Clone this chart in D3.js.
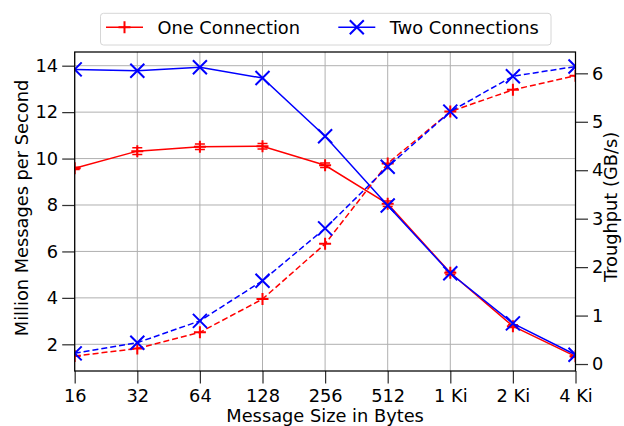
<!DOCTYPE html>
<html>
<head>
<meta charset="utf-8">
<script src="https://cdn.jsdelivr.net/npm/d3@7"></script>
<style>
  body { margin: 0; background: #fff; }
  svg { display: block; font-family: "DejaVu Sans", sans-serif; }
</style>
</head>
<body>
<svg id="chart"></svg>
<script>
// message sizes in bytes
var sizes = [16, 32, 64, 128, 256, 512, 1024, 2048, 4096];
var sizeLabels = ["16", "32", "64", "128", "256", "512", "1 Ki", "2 Ki", "4 Ki"];

// million messages per second (left axis)
var oneMsgs = [9.58, 10.32, 10.51, 10.53, 9.71, 8.05, 5.08, 2.78, 1.48];
var oneMsgsErr = [0.05, 0.15, 0.12, 0.12, 0.1, 0.12, 0.08, 0.06, 0.04];
var twoMsgs = [13.84, 13.78, 13.93, 13.47, 10.96, 7.98, 5.06, 2.90, 1.55];

// throughput in GB/s (right axis)
var oneTput = [0.165, 0.32, 0.654, 1.34, 2.48, 4.14, 5.21, 5.66, 5.95];
var twoTput = [0.22, 0.44, 0.89, 1.72, 2.80, 4.07, 5.21, 5.94, 6.14];

var leftTicks = [2, 4, 6, 8, 10, 12, 14];
var rightTicks = [0, 1, 2, 3, 4, 5, 6];

var width = 624, height = 426;
var plot = {left: 74.7, right: 575.5, top: 52, bottom: 371};
var fontSize = 17.8;
var tickLen = 12.5;

var svg = d3.select("#chart")
    .attr("width", width)
    .attr("height", height);

var x = d3.scaleLog().base(2)
    .domain([16, 4096])
    .range([plot.left, plot.right]);
var yLeft = d3.scaleLinear()
    .domain([0.85, 14.59])
    .range([plot.bottom, plot.top]);
var yRight = d3.scaleLinear()
    .domain([-0.144, 6.44])
    .range([plot.bottom, plot.top]);

svg.append("defs").append("clipPath")
    .attr("id", "plotClip")
    .append("rect")
    .attr("x", plot.left)
    .attr("y", plot.top)
    .attr("width", plot.right - plot.left)
    .attr("height", plot.bottom - plot.top);

// grid
var grid = svg.append("g").attr("stroke", "#b0b0b0").attr("stroke-width", 1);
grid.selectAll("line.gx")
    .data(sizes)
    .join("line")
    .attr("x1", d => x(d)).attr("x2", d => x(d))
    .attr("y1", plot.top).attr("y2", plot.bottom);
grid.selectAll("line.gy")
    .data(leftTicks)
    .join("line")
    .attr("x1", plot.left).attr("x2", plot.right)
    .attr("y1", d => yLeft(d)).attr("y2", d => yLeft(d));

// axes
var xAxis = d3.axisBottom(x)
    .tickValues(sizes)
    .tickFormat((d, i) => sizeLabels[i])
    .tickSize(tickLen)
    .tickPadding(6);
var leftAxis = d3.axisLeft(yLeft)
    .tickValues(leftTicks)
    .tickFormat(d3.format("d"))
    .tickSize(tickLen)
    .tickPadding(4);
var rightAxis = d3.axisRight(yRight)
    .tickValues(rightTicks)
    .tickFormat(d3.format("d"))
    .tickSize(tickLen)
    .tickPadding(4);

function styleAxis(g) {
    g.select(".domain").remove();
    g.attr("font-family", null).attr("font-size", null);
    g.selectAll(".tick line").attr("stroke", "#333").attr("stroke-width", 1.25);
    g.selectAll(".tick text").attr("fill", "#000").style("font-size", fontSize + "px");
}

svg.append("g")
    .attr("transform", "translate(0," + plot.bottom + ")")
    .call(xAxis)
    .call(styleAxis)
    .selectAll(".tick text").attr("dy", "0.72em");
svg.append("g")
    .attr("transform", "translate(" + plot.left + ",0)")
    .call(leftAxis)
    .call(styleAxis);
svg.append("g")
    .attr("transform", "translate(" + plot.right + ",0)")
    .call(rightAxis)
    .call(styleAxis);

// series
var series = [
    {vals: oneMsgs, err: oneMsgsErr, y: yLeft, color: "#ff0000", marker: "plus", dash: null},
    {vals: twoMsgs, err: null, y: yLeft, color: "#0000ff", marker: "x", dash: null},
    {vals: oneTput, err: null, y: yRight, color: "#ff0000", marker: "plus", dash: "6,3"},
    {vals: twoTput, err: null, y: yRight, color: "#0000ff", marker: "x", dash: "6,3"}
];

function markerPath(type, s) {
    if (type === "plus") {
        return "M" + (-s) + ",0H" + s + "M0," + (-s) + "V" + s;
    }
    return "M" + (-s) + "," + (-s) + "L" + s + "," + s + "M" + (-s) + "," + s + "L" + s + "," + (-s);
}

var plotG = svg.append("g").attr("clip-path", "url(#plotClip)");

series.forEach(s => {
    var g = plotG.append("g");
    var line = d3.line()
        .x((d, i) => x(sizes[i]))
        .y(d => s.y(d));
    g.append("path")
        .datum(s.vals)
        .attr("d", line)
        .attr("fill", "none")
        .attr("stroke", s.color)
        .attr("stroke-width", 1.5)
        .attr("stroke-dasharray", s.dash);

    if (s.err) {
        var eb = g.append("g").attr("stroke", s.color).attr("stroke-width", 1.5);
        eb.selectAll("path")
            .data(s.vals)
            .join("path")
            .attr("d", (d, i) => {
                var cx = x(sizes[i]);
                var y0 = s.y(d - s.err[i]), y1 = s.y(d + s.err[i]);
                return "M" + cx + "," + y0 + "V" + y1 +
                    "M" + (cx - 5) + "," + y0 + "H" + (cx + 5) +
                    "M" + (cx - 5) + "," + y1 + "H" + (cx + 5);
            });
    }

    g.selectAll("path.mk")
        .data(s.vals)
        .join("path")
        .attr("class", "mk")
        .attr("transform", (d, i) => "translate(" + x(sizes[i]) + "," + s.y(d) + ")")
        .attr("d", markerPath(s.marker, s.marker === "plus" ? 6 : 7))
        .attr("fill", "none")
        .attr("stroke", s.color)
        .attr("stroke-width", 2);
});

// frame
svg.append("rect")
    .attr("x", plot.left)
    .attr("y", plot.top)
    .attr("width", plot.right - plot.left)
    .attr("height", plot.bottom - plot.top)
    .attr("fill", "none")
    .attr("stroke", "#000")
    .attr("stroke-width", 1.25);

// axis labels
svg.append("text")
    .attr("x", (plot.left + plot.right) / 2)
    .attr("y", 422)
    .attr("text-anchor", "middle")
    .style("font-size", fontSize + "px")
    .text("Message Size in Bytes");
svg.append("text")
    .attr("transform", "translate(28,208) rotate(-90)")
    .attr("text-anchor", "middle")
    .style("font-size", fontSize + "px")
    .text("Million Messages per Second");
svg.append("text")
    .attr("transform", "translate(617,207) rotate(-90)")
    .attr("text-anchor", "middle")
    .style("font-size", fontSize + "px")
    .text("Troughput (GB/s)");

// legend
var legend = svg.append("g");
legend.append("rect")
    .attr("x", 100.5).attr("y", 13.3)
    .attr("width", 450.5).attr("height", 31.7)
    .attr("rx", 3)
    .attr("fill", "#fff")
    .attr("stroke", "#d6d6d6")
    .attr("stroke-width", 1);

var legendItems = [
    {label: "One Connection", color: "#ff0000", marker: "plus", x0: 106},
    {label: "Two Connections", color: "#0000ff", marker: "x", x0: 338.3}
];
legendItems.forEach(it => {
    var ly = 27.3;
    legend.append("line")
        .attr("x1", it.x0).attr("x2", it.x0 + 37)
        .attr("y1", ly).attr("y2", ly)
        .attr("stroke", it.color)
        .attr("stroke-width", 1.5);
    legend.append("path")
        .attr("transform", "translate(" + (it.x0 + 18.5) + "," + ly + ")")
        .attr("d", markerPath(it.marker, it.marker === "plus" ? 6 : 7))
        .attr("fill", "none")
        .attr("stroke", it.color)
        .attr("stroke-width", 2);
    legend.append("text")
        .attr("x", it.x0 + 51.5)
        .attr("y", 34.3)
        .style("font-size", fontSize + "px")
        .text(it.label);
});
</script>
</body>
</html>
